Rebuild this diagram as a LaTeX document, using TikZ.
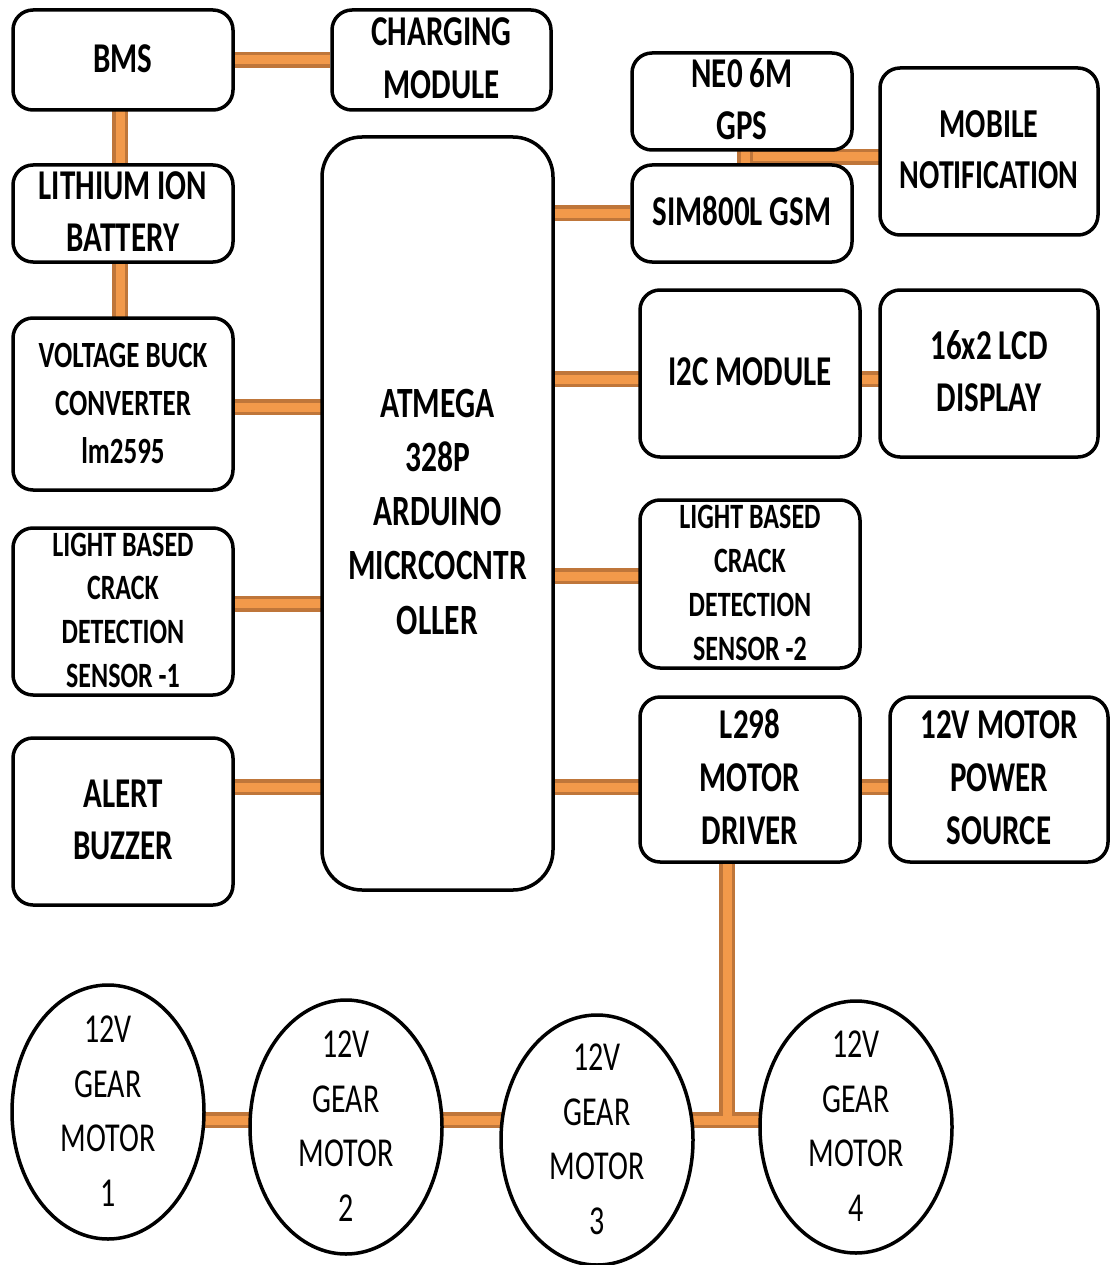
\documentclass[tikz,border=0pt]{standalone}
\usepackage{fontspec}
\setmainfont{Carlito}
\usetikzlibrary{shapes.geometric,backgrounds}
\definecolor{wireedge}{HTML}{BF763A}
\definecolor{wirefill}{HTML}{F2994A}
\newcommand\lbl[3]{\lower3pt\vbox to 0pt{\vss\hbox to 0pt{\hss\scalebox{1}[1.37]{\fontsize{#1}{#2}\selectfont\begin{tabular}{@{}c@{}}#3\end{tabular}}\hss}\vss}}
\tikzset{
  blk/.style={draw=black, line width=3.5pt, fill=white, rounded corners=20pt, inner sep=0pt, font=\bfseries},
  motor/.style={draw=black, line width=3.5pt, fill=white, ellipse, inner sep=0pt},
  mtext/.style={inner sep=0pt},
  conn/.style={draw=wireedge, line width=3.5pt, double=wirefill, double distance=9pt}
}
\begin{document}
\begin{tikzpicture}[x=1pt,y=-1pt]
\useasboundingbox (0,0) rectangle (1109,1265);
% boxes
\node[blk, minimum width=220pt, minimum height=100pt] (bms) at (123,60) {\lbl{31}{38.5}{BMS}};
\node[blk, minimum width=219pt, minimum height=100pt] (chg) at (441.5,60) {\lbl{31}{38.5}{CHARGING\\MODULE}};
\node[blk, minimum width=220pt, minimum height=97pt] (li) at (123,213.5) {\lbl{31}{38.5}{LITHIUM ION\\BATTERY}};
\node[blk, minimum width=220pt, minimum height=172pt] (volt) at (123,404) {\lbl{27}{35}{VOLTAGE  BUCK\\CONVERTER\\lm2595}};
\node[blk, minimum width=220pt, minimum height=167pt] (sen1) at (123,611.5) {\lbl{26}{32}{LIGHT BASED\\CRACK\\DETECTION\\SENSOR -1}};
\node[blk, minimum width=220pt, minimum height=167pt] (buz) at (123,821.5) {\lbl{31}{38.5}{ALERT\\BUZZER}};
\node[blk, rounded corners=40pt, minimum width=231pt, minimum height=753pt] (atm) at (437.5,513.5) {\lbl{31.5}{39.5}{ATMEGA\\328P\\ARDUINO\\MICRCOCNTR\\OLLER}};
\node[blk, minimum width=220pt, minimum height=97pt] (gps) at (742,101.5) {\lbl{31}{38.5}{NE0 6M\\GPS}};
\node[blk, minimum width=220pt, minimum height=97pt] (sim) at (742,213.5) {\lbl{31}{38.5}{SIM800L GSM}};
\node[blk, minimum width=218pt, minimum height=167pt] (mob) at (989,151.5) {\lbl{30}{37.5}{MOBILE\\NOTIFICATION}};
\node[blk, minimum width=220pt, minimum height=167pt] (i2c) at (750,373.5) {\lbl{31}{38.5}{I2C MODULE}};
\node[blk, minimum width=218pt, minimum height=167pt] (lcd) at (989,373.5) {\lbl{31}{38.5}{16x2 LCD\\DISPLAY}};
\node[blk, minimum width=220pt, minimum height=168pt] (sen2) at (750,584) {\lbl{26}{32}{LIGHT BASED\\CRACK\\DETECTION\\SENSOR -2}};
\node[blk, minimum width=220pt, minimum height=165pt] (l298) at (750,779.5) {\lbl{31}{38.5}{L298\\MOTOR\\DRIVER}};
\node[blk, minimum width=218pt, minimum height=165pt] (pwr) at (999,779.5) {\lbl{31}{38.5}{12V MOTOR\\POWER\\SOURCE}};
% motors
\node[motor, minimum width=192pt, minimum height=254pt] (m1) at (108,1112) {};
\node[motor, minimum width=192pt, minimum height=254pt] (m2) at (346,1127) {};
\node[motor, minimum width=192pt, minimum height=250pt] (m3) at (597,1140) {};
\node[motor, minimum width=192pt, minimum height=252pt] (m4) at (856,1127) {};
\node[mtext] (m1t) at (m1) {\lbl{30}{40}{12V\\GEAR\\MOTOR\\1}};
\node[mtext] (m2t) at (m2) {\lbl{30}{40}{12V\\GEAR\\MOTOR\\2}};
\node[mtext] (m3t) at (m3) {\lbl{30}{40}{12V\\GEAR\\MOTOR\\3}};
\node[mtext] (m4t) at (m4) {\lbl{30}{40}{12V\\GEAR\\MOTOR\\4}};
% junction coordinates
\coordinate (gj) at (745,157);
\coordinate (mrow) at (0,1120);
\coordinate (vx) at (727,0);
\begin{pgfonlayer}{background}
\fill[white] (0,0) rectangle (1109,1265);
\draw[conn] (bms) -- (chg);
\draw[conn] ([xshift=-3pt]bms.center) -- ([xshift=-3pt]li.center);
\draw[conn] ([xshift=-3pt]li.center) -- ([xshift=-3pt]volt.center);
\draw[conn] ([yshift=-3pt]volt.center) -- ([yshift=-3pt]volt.center -| atm);
\draw[conn] ([yshift=8pt]sen1.center) -- ([yshift=8pt]sen1.center -| atm);
\draw[conn] ([yshift=34.5pt]buz.center) -- ([yshift=34.5pt]buz.center -| atm);
\draw[conn] (sim) -- (sim -| atm);
\draw[conn] ([yshift=-5.5pt]i2c.center -| atm) -- ([yshift=-5.5pt]lcd.center);
\draw[conn] ([yshift=8pt]sen2.center -| atm) -- ([yshift=8pt]sen2.center);
\draw[conn] ([yshift=-7.5pt]l298.center -| atm) -- ([yshift=-7.5pt]pwr.center);
\draw[conn] (gj) -- (gj -| mob);
\draw[conn] (gj |- gps) -- (gj |- sim);
\draw[conn] (m1 |- mrow) -- (m4 |- mrow);
\draw[conn] (vx |- l298) -- ([yshift=4.5pt]vx |- mrow);
\end{pgfonlayer}
\end{tikzpicture}
\end{document}
